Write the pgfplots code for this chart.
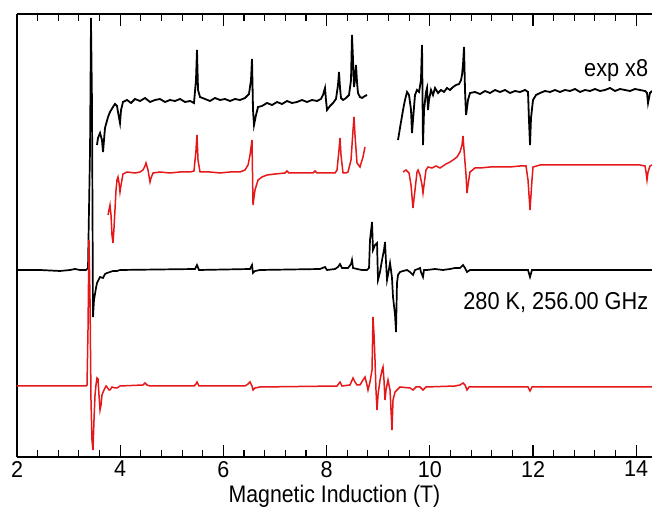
\documentclass[border=0pt]{standalone}
\usepackage{fontspec}
\setmainfont{Liberation Sans}[FakeStretch=0.94]
\newfontfamily\narrowfont{Liberation Sans}[FakeStretch=0.89]
\usepackage{pgfplots}
\pgfplotsset{compat=1.18}
\definecolor{specred}{RGB}{228,24,24}
\newcommand{\tickfont}{\fontsize{23}{27}\selectfont}
\newcommand{\labfont}{\narrowfont\fontsize{24}{28}\selectfont}
\newcommand{\notefont}{\narrowfont\fontsize{24.5}{29}\selectfont}

% spectra, field in T, intensity in arbitrary (offset) units
\pgfplotstableread{
B y
3.550 312
3.570 319
3.609 324
3.647 317
3.667 305
3.705 329
3.764 340
3.802 345
3.860 350
3.899 353
3.938 351
3.957 345
3.996 334
4.016 347
4.054 355
4.132 357
4.209 354
4.287 358
4.384 356
4.481 359
4.578 355
4.674 357
4.771 358
4.868 355
4.965 357
5.062 356
5.159 358
5.256 355
5.353 356
5.430 354
5.469 377
5.488 407
5.508 367
5.547 360
5.643 358
5.740 356
5.837 359
5.934 357
6.031 358
6.128 356
6.225 358
6.322 357
6.419 359
6.496 363
6.535 377
6.554 398
6.574 347
6.593 332
6.632 342
6.671 350
6.748 351
6.845 354
6.942 352
7.039 355
7.136 353
7.233 356
7.329 354
7.426 355
7.523 357
7.620 355
7.717 357
7.814 356
7.891 358
7.930 362
7.969 369
7.988 357
8.008 347
8.066 351
8.124 354
8.182 358
8.221 372
8.240 385
8.260 369
8.279 359
8.318 357
8.376 359
8.434 362
8.473 377
8.492 422
8.512 397
8.531 370
8.550 377
8.570 392
8.589 375
8.608 364
8.647 360
8.686 359
8.744 361
8.783 362
}\expA

\pgfplotstableread{
B y
9.384 317
9.422 329
9.481 347
9.519 357
9.558 365
9.597 362
9.636 347
9.655 324
9.674 337
9.713 362
9.752 367
9.791 365
9.829 377
9.849 412
9.868 312
9.888 347
9.926 365
9.946 369
9.965 347
9.984 357
10.023 367
10.062 362
10.101 369
10.159 364
10.217 367
10.275 365
10.333 369
10.391 367
10.450 370
10.508 372
10.566 373
10.605 377
10.624 382
10.643 392
10.663 410
10.682 367
10.702 342
10.721 349
10.740 357
10.779 364
10.876 365
10.973 363
11.070 366
11.167 364
11.264 367
11.360 365
11.457 367
11.554 364
11.651 366
11.748 365
11.845 367
11.903 365
11.922 337
11.942 312
11.961 339
12.000 357
12.058 362
12.136 364
12.233 366
12.329 365
12.426 367
12.523 365
12.620 367
12.717 366
12.814 368
12.911 365
13.008 367
13.105 366
13.201 368
13.298 366
13.395 367
13.492 369
13.589 366
13.686 368
13.783 367
13.880 366
13.977 368
14.074 367
14.171 366
14.209 364
14.229 354
14.248 359
14.267 364
14.306 366
}\expB

\pgfplotstableread{
B y
3.764 242
3.802 252
3.822 242
3.841 222
3.860 214
3.880 229
3.919 267
3.938 277
3.957 280
3.977 274
3.996 265
4.016 272
4.054 283
4.132 285
4.287 284
4.384 285
4.442 287
4.481 291
4.500 294
4.539 287
4.578 275
4.597 279
4.636 284
4.771 285
4.965 284
5.159 285
5.353 285
5.430 286
5.469 307
5.488 322
5.508 297
5.547 285
5.740 285
5.934 284
6.128 285
6.322 285
6.419 287
6.477 292
6.516 302
6.554 317
6.574 252
6.612 267
6.671 277
6.748 280
6.845 282
7.000 283
7.194 284
7.233 286
7.271 284
7.484 284
7.736 284
7.775 286
7.814 284
7.969 284
8.163 284
8.202 287
8.240 307
8.260 319
8.279 302
8.318 284
8.376 284
8.415 285
8.473 297
8.512 327
8.531 340
8.550 322
8.589 294
8.647 290
8.705 300
8.744 310
}\simA

\pgfplotstableread{
B y
9.481 285
9.539 287
9.597 284
9.636 272
9.674 249
9.713 267
9.752 285
9.771 287
9.810 282
9.849 272
9.868 264
9.888 272
9.926 287
9.965 290
10.043 289
10.120 291
10.198 289
10.256 291
10.314 293
10.391 295
10.450 297
10.527 300
10.585 305
10.624 312
10.643 321
10.663 307
10.702 282
10.721 264
10.740 272
10.779 285
10.876 289
10.973 289
11.167 290
11.360 290
11.554 290
11.748 291
11.864 291
11.903 277
11.942 247
11.980 277
12.000 290
12.136 292
12.523 292
12.911 292
13.298 292
13.686 292
14.074 292
14.171 291
14.190 285
14.209 277
14.229 285
14.267 291
14.306 292
}\simB

\pgfplotstableread{
B y
2.000 187
2.446 187
2.833 186
3.027 187
3.124 188
3.221 187
3.337 187
3.376 189
3.415 307
3.434 439
3.453 357
3.473 140
3.492 157
3.531 169
3.550 174
3.609 180
3.667 179
3.705 183
3.744 184
3.802 185
3.860 186
3.938 186
3.996 187
5.450 188
5.488 192
5.527 187
6.516 188
6.554 192
6.574 184
6.612 186
6.709 187
7.872 188
7.969 190
8.008 187
8.163 188
8.221 190
8.260 193
8.298 189
8.415 189
8.473 193
8.492 197
8.512 189
8.589 188
8.686 187
8.783 187
8.822 189
8.841 217
8.880 235
8.899 207
8.938 212
8.977 214
8.996 177
9.035 185
9.074 197
9.112 207
9.132 215
9.151 195
9.171 177
9.190 182
9.229 194
9.248 187
9.267 179
9.287 160
9.326 142
9.345 125
9.364 174
9.384 182
9.422 185
9.481 186
9.558 187
9.616 185
9.674 182
9.713 187
9.771 188
9.810 189
9.829 185
9.868 180
9.888 187
9.946 187
10.101 188
10.256 187
10.391 188
10.488 189
10.585 189
10.643 192
10.682 189
10.721 185
10.779 187
11.903 187
11.942 180
11.980 187
14.306 187
}\expC

\pgfplotstableread{
B y
2.000 71
2.833 71
3.337 71
3.357 72
3.376 127
3.395 217
3.415 157
3.434 57
3.453 17
3.473 7
3.492 37
3.512 62
3.531 72
3.550 79
3.570 78
3.589 62
3.609 47
3.628 52
3.647 62
3.686 67
3.725 71
3.744 70
3.783 67
3.802 67
3.841 70
3.899 69
3.938 69
3.996 71
4.442 72
4.481 74
4.519 72
4.578 71
5.430 71
5.469 73
5.488 75
5.527 71
6.419 71
6.477 73
6.516 75
6.554 71
6.574 67
6.612 69
6.709 70
8.202 71
8.260 75
8.298 71
8.453 72
8.512 79
8.550 75
8.589 72
8.647 72
8.705 77
8.744 80
8.783 72
8.802 67
8.841 75
8.880 87
8.899 140
8.919 122
8.938 97
8.957 67
8.977 47
8.996 62
9.035 77
9.074 87
9.093 90
9.112 77
9.132 57
9.151 67
9.190 77
9.209 72
9.229 67
9.248 47
9.267 27
9.287 57
9.326 65
9.364 67
9.422 70
9.616 69
9.674 67
9.733 70
9.810 70
9.868 67
9.926 70
10.488 71
10.585 72
10.643 74
10.682 72
10.721 67
10.760 70
11.903 70
11.942 66
11.980 70
14.306 70
}\simC

\begin{document}
\begin{tikzpicture}
\begin{axis}[
  scale only axis,
  width=635bp, height=443bp,
  xmin=2, xmax=14.306,
  ymin=0, ymax=443,
  axis y line*=left,
  ytick=\empty,
  xtick={2,4,...,14},
  minor x tick num=4,
  major tick length=12bp,
  minor tick length=7bp,
  tick style={black, line width=1.1bp},
  axis line style={line width=1.8bp},
  /pgf/number format/assume math mode=true,
  tick label style={font=\tickfont},
  xticklabel style={inner sep=1bp, yshift=-3bp},
  label style={font=\labfont},
  xlabel={Magnetic Induction (T)},
  xlabel style={at={(axis description cs:0.5,0)}, anchor=base,
    inner sep=1bp, yshift=-45.5bp},
  clip=true,
]
\coordinate (sw) at (rel axis cs:0,0);
\addplot[black, line width=1.8bp] table {\expA};
\addplot[black, line width=1.8bp] table {\expB};
\addplot[black, line width=1.7bp] table {\expC};
\addplot[specred, line width=1.5bp] table {\simA};
\addplot[specred, line width=1.5bp] table {\simB};
\addplot[specred, line width=1.5bp] table {\simC};
\node[anchor=east, font=\notefont] at (axis cs:14.30,386) {exp x8};
\node[anchor=east, font=\notefont] at (axis cs:14.30,154) {280 K, 256.00 GHz};
\end{axis}
\pgfresetboundingbox
\path[use as bounding box] (sw) ++(-17bp,-51bp) rectangle ++(652bp,508bp);
\end{tikzpicture}
\end{document}
